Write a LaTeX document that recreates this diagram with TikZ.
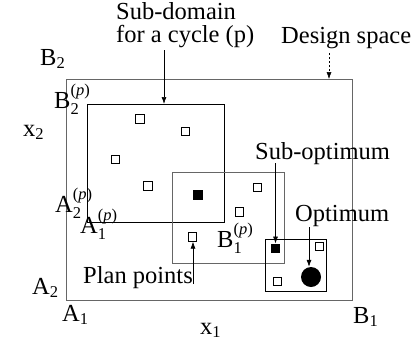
\documentclass[tikz,border=0pt]{standalone}
\usepackage{amsmath}
\usepackage{fontspec}
\setmainfont{Liberation Serif}
\usetikzlibrary{arrows.meta}
\newcommand{\scr}[1]{\text{\fontsize{16.5}{16.5}\selectfont #1}}
\begin{document}
\begin{tikzpicture}[x=1pt,y=-1pt,
  lbl/.style={font=\fontsize{24.5}{22}\selectfont, inner sep=0pt, anchor=base west},
  plainpt/.style={draw, line width=0.8pt, minimum size=8.5pt, inner sep=0pt, fill=white},
  fillpt/.style={draw, fill=black, minimum size=8.5pt, inner sep=0pt},
  arr/.style={-{Latex[length=7pt,width=5pt]}, line width=0.7pt},
  graybox/.style={draw=black!60, line width=0.9pt, inner sep=0pt, anchor=north west},
  blackbox/.style={draw=black, line width=0.8pt, inner sep=0pt, anchor=north west}]
\useasboundingbox (0,0) rectangle (411,343);

% boxes
\node[graybox, minimum width=286pt, minimum height=221pt] (design) at (66,79) {};
\node[blackbox, minimum width=137pt, minimum height=118pt] (sub) at (87,104) {};
\node[graybox, minimum width=112pt, minimum height=91pt] (mid) at (172,172) {};
\node[blackbox, minimum width=61pt, minimum height=52pt] (small) at (265,239) {};

% plan points
\node[plainpt] (p1) at (140,119) {};
\node[plainpt] (p2) at (185.5,131.5) {};
\node[plainpt] (p3) at (115.5,159.5) {};
\node[plainpt] (p4) at (148,186) {};
\node[fillpt] (f1) at (197.5,194.5) {};
\node[plainpt] (p5) at (257.5,187.5) {};
\node[plainpt] (p6) at (239.5,212) {};
\node[plainpt] (p7) at (192.5,237) {};
\node[fillpt] (f2) at (275,248) {};
\node[plainpt] (p8) at (319.5,246.5) {};
\node[plainpt] (p9) at (277.5,281.5) {};
\node[circle, fill=black, minimum size=20pt, inner sep=0pt] (optc) at (311,277) {};

% labels
\node[lbl, align=left, font=\fontsize{24.5}{23.5}\selectfont] (sdl) at (116,42.5) {Sub-domain\\for a cycle (p)};
\node[lbl] (dsl) at (281,43) {Design space};
\node[lbl] (sol) at (255,159) {Sub-optimum};
\node[lbl] (optl) at (295,221) {Optimum};
\node[lbl] (ppl) at (83,283) {Plan points};

\node[lbl] (lB2) at (40,65) {B$_{\scr{2}}$};
\node[lbl] (lB2p) at (54,108) {B$_{\scr{2}}^{\scr{(\textit{p})}}$};
\node[lbl] (lx2) at (23,136) {x$_{\scr{2}}$};
\node[lbl] (lA2p) at (55,212) {A$_{\scr{2}}^{\scr{(\textit{p})}}$};
\node[lbl] (lA1p) at (80,233) {A$_{\scr{1}}^{\scr{(\textit{p})}}$};
\node[lbl] (lB1p) at (217,247) {B$_{\scr{1}}^{\scr{(\textit{p})}}$};
\node[lbl] (lA2) at (32,294) {A$_{\scr{2}}$};
\node[lbl] (lA1) at (62,321) {A$_{\scr{1}}$};
\node[lbl] (lx1) at (200,334) {x$_{\scr{1}}$};
\node[lbl] (lB1) at (353,323) {B$_{\scr{1}}$};

% connectors
\coordinate (sdA) at (164,50);
\draw[arr] (sdA) -- (sdA |- sub.north);
\coordinate (dsA) at (329,53);
\draw[arr, dash pattern=on 2pt off 2pt, line width=0.5pt] (dsA) -- (dsA |- design.north);
\coordinate (soA) at (275.5,163);
\draw[arr] (soA) -- (soA |- f2.north);
\coordinate (optA) at (309,227);
\draw[arr] (optA) -- (optA |- optc.north);
\coordinate (ppA) at (193,284);
\draw[arr] (ppA) -- (ppA |- p7.south);
\end{tikzpicture}
\end{document}
